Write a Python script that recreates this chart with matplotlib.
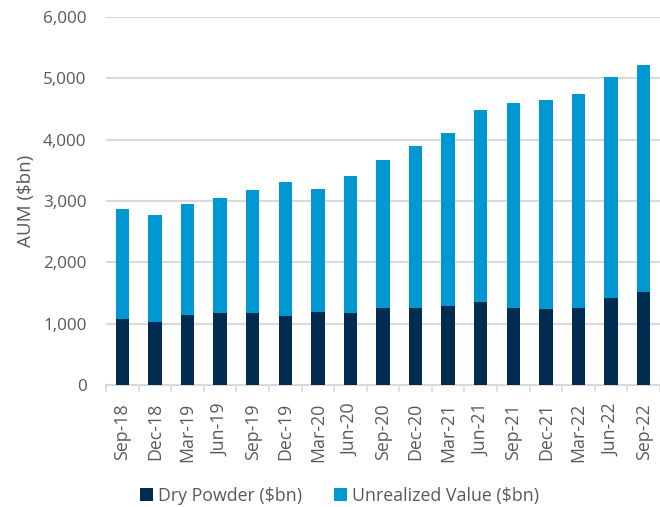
import matplotlib
matplotlib.use("Agg")
import matplotlib.pyplot as plt
import numpy as np

categories = ["Sep-18", "Dec-18", "Mar-19", "Jun-19", "Sep-19", "Dec-19", "Mar-20", "Jun-20",
              "Sep-20", "Dec-20", "Mar-21", "Jun-21", "Sep-21", "Dec-21", "Mar-22", "Jun-22", "Sep-22"]
totals = [2865, 2770, 2945, 3045, 3180, 3310, 3195, 3410, 3675, 3900, 4105, 4480, 4605, 4640, 4745, 5020, 5220]
dry_powder = [1075, 1030, 1140, 1175, 1180, 1130, 1195, 1180, 1260, 1260, 1295, 1350, 1260, 1240, 1260, 1425, 1520]
unrealized = [t - d for t, d in zip(totals, dry_powder)]

plt.rcParams['font.family'] = ['Open Sans', 'DejaVu Sans']
gray_text = "#595959"
grid_col = "#D9D9D9"
dark = "#002C51"
light = "#0097D3"

fig = plt.figure(figsize=(6.6, 5.07), dpi=100)
ax = fig.add_axes([0.1606, 0.2406, 0.8394, 0.7259])

x = np.arange(len(categories))
w = 0.41
ax.bar(x, dry_powder, width=w, color=dark, label="Dry Powder ($bn)", zorder=3)
ax.bar(x, unrealized, width=w, bottom=dry_powder, color=light, label="Unrealized Value ($bn)", zorder=3)

ax.set_ylim(0, 6000)
ax.set_xlim(-0.5, len(categories) - 0.5)
ax.set_yticks(np.arange(0, 6001, 1000))
ax.set_yticklabels([f"{v:,}" for v in range(0, 6001, 1000)])
ax.yaxis.grid(True, color=grid_col, linewidth=1.5, zorder=0)
ax.set_axisbelow(True)

ax.set_xticks(x)
ax.set_xticklabels(categories, rotation=90)
ax.set_xticks(np.arange(-0.5, len(categories), 1.0), minor=True)
ax.tick_params(axis='x', which='major', length=0, pad=13, labelsize=12.8, labelcolor=gray_text)
ax.tick_params(axis='x', which='minor', length=5, width=1.2, color=grid_col)
ax.tick_params(axis='y', length=0, pad=14, labelsize=12.3, labelcolor=gray_text)

for s in ["top", "right", "left"]:
    ax.spines[s].set_visible(False)
ax.spines["bottom"].set_color(grid_col)
ax.spines["bottom"].set_linewidth(1.5)

ax.set_ylabel(r"AUM (\$bn)", fontsize=13.5, color=gray_text, labelpad=6)

leg = fig.legend(loc="center", bbox_to_anchor=(0.515, 0.022), ncol=2, frameon=False,
                 handlelength=0.7, handleheight=0.7, handletextpad=0.3, columnspacing=1.8,
                 fontsize=12.8, labelcolor=gray_text)

fig.savefig("out.png", dpi=100)
